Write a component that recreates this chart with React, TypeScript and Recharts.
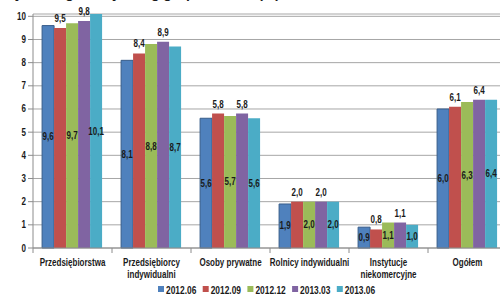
import { BarChart, Bar, XAxis, YAxis, CartesianGrid, LabelList } from 'recharts'

const categories = [
  'Przedsiębiorstwa',
  'Przedsiębiorcy\nindywidualni',
  'Osoby prywatne',
  'Rolnicy indywidualni',
  'Instytucje\nniekomercyjne',
  'Ogółem'
]
const s2012_06 = [9.6, 8.1, 5.6, 1.9, 0.9, 6.0]
const s2012_09 = [9.5, 8.4, 5.8, 2.0, 0.8, 6.1]
const s2012_12 = [9.7, 8.8, 5.7, 2.0, 1.1, 6.3]
const s2013_03 = [9.8, 8.9, 5.8, 2.0, 1.1, 6.4]
const s2013_06 = [10.1, 8.7, 5.6, 2.0, 1.0, 6.4]
const seriesNames = ['2012.06', '2012.09', '2012.12', '2013.03', '2013.06']
const seriesValues = [s2012_06, s2012_09, s2012_12, s2013_03, s2013_06]
const yTicks = [0, 1, 2, 3, 4, 5, 6, 7, 8, 9, 10]

const colors = ['#4F81BD', '#C0504D', '#9BBB59', '#8064A2', '#4BACC6']
const FONT = '"Liberation Sans", Arial, sans-serif'
const SQUEEZE = 0.8 // fake Arial Narrow
const CHART_W = 500
const CHART_H = 295
// last group runs past the right edge in the original, hence the negative right margin
const MARGIN = { top: 14, right: -7, left: 0, bottom: 0 }
const Y_W = 33
const catW = (CHART_W - MARGIN.left - MARGIN.right - Y_W) / categories.length

const data = categories.map((name, i) => {
  const row: Record<string, number | string> = { name }
  seriesNames.forEach((s, j) => {
    row[s] = seriesValues[j][i]
  })
  return row
})

const fmt = (v: any) => Number(v).toFixed(1).replace('.', ',')

function NarrowText({ x, y, anchor = 'middle', size = 10, children }: any) {
  return (
    <text
      transform={`translate(${x},${y}) scale(${SQUEEZE},1)`}
      x={0}
      y={0}
      textAnchor={anchor}
      fontFamily={FONT}
      fontWeight="bold"
      fontSize={size}
      fill="#1a1a1a"
    >
      {children}
    </text>
  )
}

// recharts hands the tick y already pushed down by tickSize + tickMargin (8px)
function CategoryTick(props: any) {
  const { x, y, payload } = props
  const lines = String(payload.value).split('\n')
  return (
    <g>
      <line x1={x - catW / 2} x2={x - catW / 2} y1={y - 8} y2={y - 3} stroke="#8c8c8c" />
      {lines.map((l, k) => (
        <NarrowText key={k} x={x} y={y + 10 + k * 12}>
          {l}
        </NarrowText>
      ))}
    </g>
  )
}

function ValueTick(props: any) {
  const { x, y, payload } = props
  return (
    <NarrowText x={x} y={y + 3.5} anchor="end">
      {payload.value}
    </NarrowText>
  )
}

const makeLabel = (pos: 'center' | 'top') => (props: any) => {
  const { x, y, width, height, value } = props
  const cx = x + width / 2
  const by = pos === 'center' ? y + height / 2 + 3.5 : y - 6
  return <NarrowText x={cx} y={by}>{fmt(value)}</NarrowText>
}

function ChartLegend() {
  const itemW = 44.7
  return (
    <svg
      width={240}
      height={13}
      style={{ position: 'absolute', left: 156, top: 282 }}
    >
      {seriesNames.map((s, i) => (
        <g key={s}>
          <rect x={2 + i * itemW} y={4} width={6} height={6} fill={colors[i]} />
          <NarrowText x={10 + i * itemW} y={11.5} anchor="start" size={10.5}>
            {s}
          </NarrowText>
        </g>
      ))}
    </svg>
  )
}

export default function App() {
  return (
    <div
      style={{
        position: 'absolute',
        left: 0,
        top: 0,
        width: 500,
        height: 295,
        overflow: 'hidden',
        background: '#fff'
      }}
    >
      <div
        style={{
          position: 'absolute',
          top: -14,
          right: 500 - 280,
          whiteSpace: 'nowrap',
          fontFamily: FONT,
          fontWeight: 'bold',
          fontSize: 14,
          lineHeight: '14px',
          color: '#1a1a1a'
        }}
      >
        Udział kredytów zagrożonych wg grup klientów (%)
      </div>
      <BarChart
        width={CHART_W}
        height={CHART_H}
        data={data}
        margin={MARGIN}
        barCategoryGap="11.5%"
        barGap={0}
      >
        <CartesianGrid vertical={false} stroke="#a6a6a6" />
        <XAxis
          dataKey="name"
          interval={0}
          height={47}
          tickLine={false}
          axisLine={{ stroke: '#8c8c8c' }}
          tick={<CategoryTick />}
        />
        <YAxis
          width={Y_W}
          domain={[0, 10]}
          ticks={yTicks}
          interval={0}
          tickSize={5}
          tickLine={{ stroke: '#8c8c8c' }}
          axisLine={{ stroke: '#8c8c8c' }}
          tick={<ValueTick />}
        />
        {seriesNames.map((s, i) => (
          <Bar
            key={s}
            dataKey={s}
            fill={colors[i]}
            stroke={i === 0 ? '#385D8A' : undefined}
            strokeWidth={i === 0 ? 1 : 0}
            isAnimationActive={false}
          >
            <LabelList dataKey={s} content={makeLabel(i % 2 === 0 ? 'center' : 'top')} />
          </Bar>
        ))}
      </BarChart>
      <ChartLegend />
    </div>
  )
}
